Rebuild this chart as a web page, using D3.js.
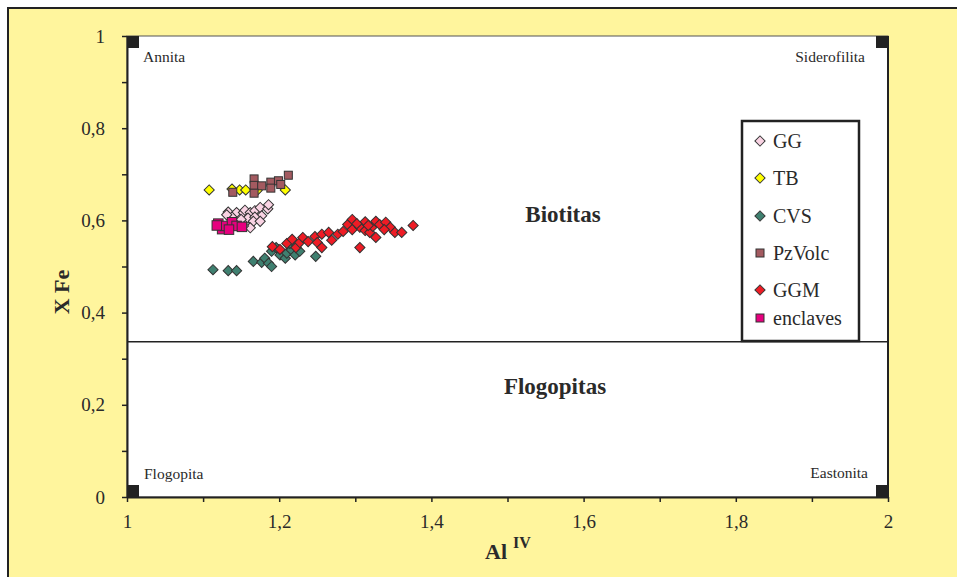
<!DOCTYPE html>
<html>
<head>
<meta charset="utf-8">
<script src="https://cdn.jsdelivr.net/npm/d3@7"></script>
<style>
  body { margin: 0; background: #fff; }
  text { font-family: "Liberation Serif", "Times New Roman", serif; fill: #2a2a2a; }
</style>
</head>
<body>
<div id="chart"></div>
<script>
// data: [Al IV, X Fe]
const gg = [[1.133,0.618],[1.144,0.617],[1.138,0.607],[1.153,0.617],[1.155,0.622],[1.162,0.617],
  [1.168,0.621],[1.175,0.628],[1.177,0.610],[1.185,0.625],[1.186,0.634],[1.159,0.605],[1.168,0.607],
  [1.166,0.598],[1.175,0.598],[1.162,0.584],[1.153,0.588],[1.131,0.612],[1.150,0.602]];
const tb = [[1.108,0.666],[1.138,0.668],[1.148,0.666],[1.156,0.666],[1.171,0.665],[1.208,0.666]];
const cvs = [[1.113,0.493],[1.133,0.491],[1.144,0.491],[1.166,0.511],[1.177,0.509],[1.181,0.518],
  [1.186,0.507],[1.190,0.500],[1.190,0.533],[1.199,0.536],[1.201,0.525],[1.208,0.518],[1.210,0.529],
  [1.216,0.536],[1.221,0.525],[1.227,0.533],[1.214,0.550],[1.223,0.546],[1.248,0.522],[1.196,0.541]];
const pzvolc = [[1.139,0.661],[1.167,0.690],[1.167,0.676],[1.177,0.675],[1.167,0.659],[1.189,0.683],
  [1.189,0.670],[1.199,0.686],[1.202,0.678],[1.212,0.698]];
const ggm = [[1.191,0.543],[1.201,0.537],[1.210,0.550],[1.217,0.559],[1.222,0.541],[1.227,0.552],
  [1.231,0.563],[1.238,0.554],[1.247,0.565],[1.250,0.552],[1.256,0.570],[1.256,0.541],[1.265,0.574],
  [1.269,0.557],[1.277,0.570],[1.290,0.591],[1.296,0.602],[1.296,0.580],[1.306,0.585],[1.306,0.541],
  [1.313,0.597],[1.313,0.578],[1.319,0.574],[1.323,0.587],[1.327,0.598],[1.327,0.563],[1.332,0.591],
  [1.340,0.596],[1.346,0.585],[1.352,0.574],[1.361,0.574],[1.376,0.589],[1.302,0.593],[1.317,0.589],
  [1.338,0.580],[1.284,0.576]];
const enclaves = [[1.120,0.593],[1.125,0.581],[1.129,0.588],[1.138,0.596],[1.144,0.588],[1.151,0.586],
  [1.134,0.580],[1.118,0.589]];

const seriesNames = ["GG", "TB", "CVS", "PzVolc", "GGM", "enclaves"];
const boundary = 0.337;
const cornerLabels = ["Annita", "Siderofilita", "Flogopita", "Eastonita"];

const series = [
  {name: "GG", data: gg, shape: "diamond", color: "#f9d3e3"},
  {name: "TB", data: tb, shape: "diamond", color: "#ffff00"},
  {name: "CVS", data: cvs, shape: "diamond", color: "#3f8070"},
  {name: "PzVolc", data: pzvolc, shape: "square", color: "#a35a60"},
  {name: "GGM", data: ggm, shape: "diamond", color: "#ee1c25"},
  {name: "enclaves", data: enclaves, shape: "square", color: "#e6007e"}
];
// drawing order (back to front) as it looks in the picture
const drawOrder = ["TB", "PzVolc", "GG", "enclaves", "CVS", "GGM"];

const W = 957, H = 577;
const svg = d3.select("#chart").append("svg")
  .attr("width", W).attr("height", H);

// yellow page frame
svg.append("rect")
  .attr("x", 8).attr("y", 8).attr("width", W + 20).attr("height", H + 20)
  .attr("fill", "#fff59d").attr("stroke", "#222").attr("stroke-width", 2);

const x = d3.scaleLinear().domain([1, 2]).range([127, 888]);
const y = d3.scaleLinear().domain([0, 1]).range([497, 36]);

// plot area
svg.append("rect")
  .attr("x", x(1)).attr("y", y(1)).attr("width", x(2) - x(1)).attr("height", y(0) - y(1))
  .attr("fill", "#fff").attr("stroke", "#555").attr("stroke-width", 1);
svg.append("line")
  .attr("x1", x(2)).attr("x2", x(2)).attr("y1", y(1)).attr("y2", y(0))
  .attr("stroke", "#222").attr("stroke-width", 2);

// Biotitas / Flogopitas boundary
svg.append("line")
  .attr("x1", x(1)).attr("x2", x(2)).attr("y1", y(boundary)).attr("y2", y(boundary))
  .attr("stroke", "#222").attr("stroke-width", 1.5);

// corner squares
const cs = 12;
[[1, 1], [2, 1], [1, 0], [2, 0]].forEach(c => {
  svg.append("rect")
    .attr("x", c[0] === 1 ? x(1) : x(2) - cs)
    .attr("y", c[1] === 1 ? y(1) : y(0) - cs)
    .attr("width", cs).attr("height", cs).attr("fill", "#222");
});

const fmt = d => {
  const k = Math.round(d * 10);
  if (k % 2 !== 0) return "";
  return String(k / 10).replace(".", ",");
};
const ticks = d3.range(0, 11).map(i => i / 10);

const xAxis = svg.append("g")
  .attr("transform", "translate(0," + y(0) + ")")
  .call(d3.axisBottom(x).tickValues(ticks.map(t => 1 + t)).tickFormat(fmt)
    .tickSize(5).tickSizeOuter(0).tickPadding(13));
const yAxis = svg.append("g")
  .attr("transform", "translate(" + x(1) + ",0)")
  .call(d3.axisLeft(y).tickValues(ticks).tickFormat(fmt)
    .tickSize(5).tickSizeOuter(0).tickPadding(17));
[xAxis, yAxis].forEach(a => {
  a.select(".domain").attr("stroke", "#222").attr("stroke-width", 2);
  a.selectAll(".tick line").attr("stroke", "#222").attr("stroke-width", 1.5);
  a.selectAll(".tick text").attr("font-size", 19)
    .attr("font-family", "Liberation Serif, serif").attr("fill", "#2a2a2a");
});

// axis titles
svg.append("text")
  .attr("transform", "translate(69,292) rotate(-90)")
  .attr("text-anchor", "middle").attr("font-size", 22).attr("font-weight", "bold")
  .text("X Fe");
const xt = svg.append("text")
  .attr("x", 485).attr("y", 559).attr("font-size", 22).attr("font-weight", "bold");
xt.append("tspan").text("Al");
xt.append("tspan").attr("dx", 6).attr("dy", -11).attr("font-size", 16).text("IV");

// field labels
svg.append("text").attr("x", 563).attr("y", 222).attr("text-anchor", "middle")
  .attr("font-size", 23).attr("font-weight", "bold").text("Biotitas");
svg.append("text").attr("x", 555).attr("y", 394).attr("text-anchor", "middle")
  .attr("font-size", 23).attr("font-weight", "bold").text("Flogopitas");

const corner = svg.append("g").attr("font-size", 15.5);
corner.append("text").attr("x", 143).attr("y", 62).text(cornerLabels[0]);
corner.append("text").attr("x", 865).attr("y", 62).attr("text-anchor", "end").text(cornerLabels[1]);
corner.append("text").attr("x", 144).attr("y", 479).text(cornerLabels[2]);
corner.append("text").attr("x", 868).attr("y", 478).attr("text-anchor", "end").text(cornerLabels[3]);

// markers
const diamond = d3.symbol().type(d3.symbolSquare).size(52);
function marker(sel, s, big) {
  if (s.shape === "diamond") {
    sel.append("path").attr("d", diamond()).attr("transform", "rotate(45)");
  } else {
    const sz = big ? 9.5 : 8;
    sel.append("rect").attr("x", -sz / 2).attr("y", -sz / 2).attr("width", sz).attr("height", sz);
  }
  sel.selectAll("path, rect").attr("fill", s.color).attr("stroke", "#333").attr("stroke-width", 1);
}

drawOrder.forEach(name => {
  const s = series.find(d => d.name === name);
  const g = svg.append("g");
  g.selectAll("g").data(s.data).enter().append("g")
    .attr("transform", d => "translate(" + x(d[0]) + "," + y(d[1]) + ")")
    .each(function() { marker(d3.select(this), s, s.name === "enclaves"); });
});

// legend
svg.append("rect")
  .attr("x", 742).attr("y", 121).attr("width", 117).attr("height", 220)
  .attr("fill", "#fff").attr("stroke", "#222").attr("stroke-width", 2.5);
const legendY = [141, 178, 216, 253, 290, 318];
seriesNames.forEach((n, i) => {
  const s = series.find(d => d.name === n);
  const g = svg.append("g").attr("transform", "translate(760," + legendY[i] + ")");
  marker(g, s, false);
  g.append("text").attr("x", 13).attr("y", 7).attr("font-size", 20).text(n);
});
</script>
</body>
</html>
